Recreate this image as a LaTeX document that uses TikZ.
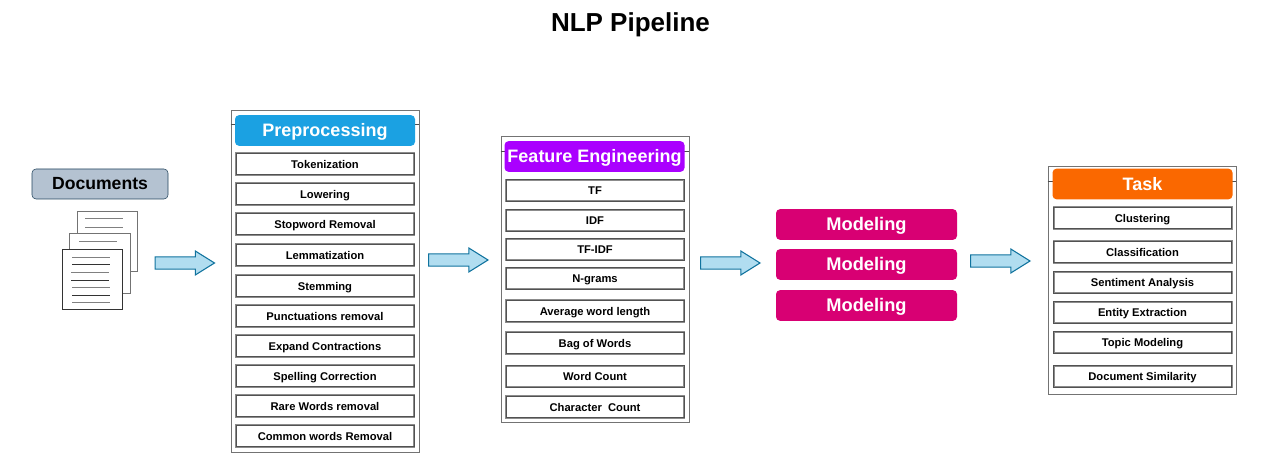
\documentclass[tikz,border=0pt]{standalone}
\usepackage{fontspec}
\setmainfont{Liberation Sans}
\usetikzlibrary{shapes.arrows}
\definecolor{prepblue}{HTML}{1BA1E2}
\definecolor{featpurple}{HTML}{AA00FF}
\definecolor{taskorange}{HTML}{FA6800}
\definecolor{modelpink}{HTML}{D80073}
\definecolor{docsfill}{HTML}{B4C2D1}
\definecolor{docsline}{HTML}{23445D}
\definecolor{arrowfill}{HTML}{B1DDF0}
\definecolor{arrowline}{HTML}{10739E}
\tikzset{
	panelbox/.style={draw=black!55, line width=0.7pt, fill=white, inner sep=0pt, minimum width=141pt},
	headbox/.style={rounded corners=3pt, text=white, inner sep=0pt, minimum width=135pt, minimum height=23pt, text height=10.2pt, text depth=1pt, font=\fontsize{13.5}{14}\selectfont\bfseries},
	itembox/.style={draw=black!45, double=black!68, line width=0.45pt, double distance=0.6pt, fill=white, inner sep=0pt, minimum width=133.5pt, minimum height=16pt, text height=7.5pt, text depth=0.9pt, font=\fontsize{8.4}{10}\selectfont\bfseries},
	modelbox/.style={rounded corners=3pt, fill=modelpink, text=white, inner sep=0pt, minimum width=135.75pt, minimum height=23pt, text height=10.2pt, text depth=1pt, font=\fontsize{13.7}{14}\selectfont\bfseries},
	flowarrow/.style={single arrow, draw=arrowline, fill=arrowfill, line width=0.8pt, anchor=tail, inner xsep=0pt, inner ysep=4.2pt, minimum height=44.6pt, minimum width=17.4pt, single arrow head extend=4.4pt, single arrow tip angle=64, single arrow head indent=0pt},
	backpage/.style={draw=black!55, line width=0.75pt, fill=white},
	pageline/.style={draw=black!50, line width=0.7pt},
	darkline/.style={draw=black!80, line width=0.6pt}
}

\begin{document}
\begin{tikzpicture}[x=0.75pt, y=-0.75pt]
	%%%%% START %%%%%
	\useasboundingbox (0, 0) rectangle (1272, 473);

	\node[font=\fontsize{19.5}{20}\selectfont\bfseries, text height=14.9pt, text depth=1.1pt, inner sep=0pt] (title) at (630.5, 22) {NLP Pipeline};

	% documents
	\node[draw=docsline, fill=docsfill, rounded corners=3pt, line width=0.4pt, minimum width=102pt, minimum height=22.5pt, inner sep=0pt, text height=10pt, text depth=1pt, font=\fontsize{13.2}{14}\selectfont\bfseries] (documents) at (100, 184) {Documents};
	\draw[backpage] (77, 212) rectangle (137.5, 272);
	\draw[pageline] (85, 218) -- (123, 218);
	\draw[pageline] (85, 227) -- (123, 227);
	\draw[backpage] (69.5, 233.5) rectangle (130, 294);
	\draw[pageline] (79, 241.5) -- (117, 241.5);
	\draw[draw=black!80, line width=0.6pt, fill=white] (62.5, 249.5) rectangle (122.5, 309.5);
	\draw[pageline] (72, 257.5) -- (110, 257.5);
	\draw[darkline] (72, 264.5) -- (110, 264.5);
	\draw[pageline] (71, 272.5) -- (109, 272.5);
	\draw[darkline] (71, 280.5) -- (109, 280.5);
	\draw[pageline] (72, 287.5) -- (110, 287.5);
	\draw[darkline] (72, 295) -- (110, 295);
	\draw[pageline] (72, 302.5) -- (110, 302.5);

	\node[flowarrow] (arrowdocs) at (154.5, 263) {};

	% preprocessing
	\node[panelbox, minimum height=256.5pt] (prep) at (325, 281) {};
	\draw[line width=0.5pt, draw=black!70] (prep.west |- 0, 124.5) -- (prep.east |- 0, 124.5);
	\node[headbox, fill=prepblue] (prephead) at (325, 130.5) {Preprocessing};
	\node[itembox] (tokenization) at (325, 164) {Tokenization};
	\node[itembox] (lowering) at (325, 194) {Lowering};
	\node[itembox] (stopword) at (325, 224) {Stopword Removal};
	\node[itembox] (lemmatization) at (325, 255) {Lemmatization};
	\node[itembox] (stemming) at (325, 286) {Stemming};
	\node[itembox] (punctuations) at (325, 316) {Punctuations removal};
	\node[itembox] (contractions) at (325, 346) {Expand Contractions};
	\node[itembox] (spelling) at (325, 376) {Spelling Correction};
	\node[itembox] (rarewords) at (325, 406) {Rare Words removal};
	\node[itembox] (commonwords) at (325, 436) {Common words Removal};

	\node[flowarrow] (arrowprep) at (428, 260) {};

	% feature engineering
	\node[panelbox, minimum height=214.5pt] (feat) at (595, 279) {};
	\draw[line width=0.5pt, draw=black!70] (feat.west |- 0, 151.5) -- (feat.east |- 0, 151.5);
	\node[headbox, fill=featpurple] (feathead) at (594.5, 156.5) {Feature Engineering};
	\node[itembox] (tf) at (595, 190.5) {TF};
	\node[itembox] (idf) at (595, 220.5) {IDF};
	\node[itembox] (tfidf) at (595, 249.5) {TF-IDF};
	\node[itembox] (ngrams) at (595, 278.5) {N-grams};
	\node[itembox] (wordlength) at (595, 311) {Average word length};
	\node[itembox] (bagofwords) at (595, 343) {Bag of Words};
	\node[itembox] (wordcount) at (595, 376.5) {Word Count};
	\node[itembox] (charcount) at (595, 407) {Character\ \ Count};

	\node[flowarrow] (arrowfeat) at (700, 263) {};

	% modeling
	\node[modelbox] (modelone) at (866.5, 224.5) {Modeling};
	\node[modelbox] (modeltwo) at (866.5, 264.5) {Modeling};
	\node[modelbox] (modelthree) at (866.5, 305.5) {Modeling};

	\node[flowarrow] (arrowmodel) at (970, 261) {};

	% task
	\node[panelbox, minimum height=171pt] (task) at (1142, 280) {};
	\draw[line width=0.5pt, draw=black!70] (task.west |- 0, 181.5) -- (task.east |- 0, 181.5);
	\node[headbox, fill=taskorange] (taskhead) at (1142.5, 184) {Task};
	\node[itembox] (clustering) at (1142.5, 218) {Clustering};
	\node[itembox] (classification) at (1142.5, 252) {Classification};
	\node[itembox] (sentiment) at (1142.5, 282.5) {Sentiment Analysis};
	\node[itembox] (entity) at (1142.5, 312.5) {Entity Extraction};
	\node[itembox] (topic) at (1142.5, 342.5) {Topic Modeling};
	\node[itembox] (similarity) at (1142.5, 376.5) {Document Similarity};

	%%%%% END %%%%%
\end{tikzpicture}
\end{document}
